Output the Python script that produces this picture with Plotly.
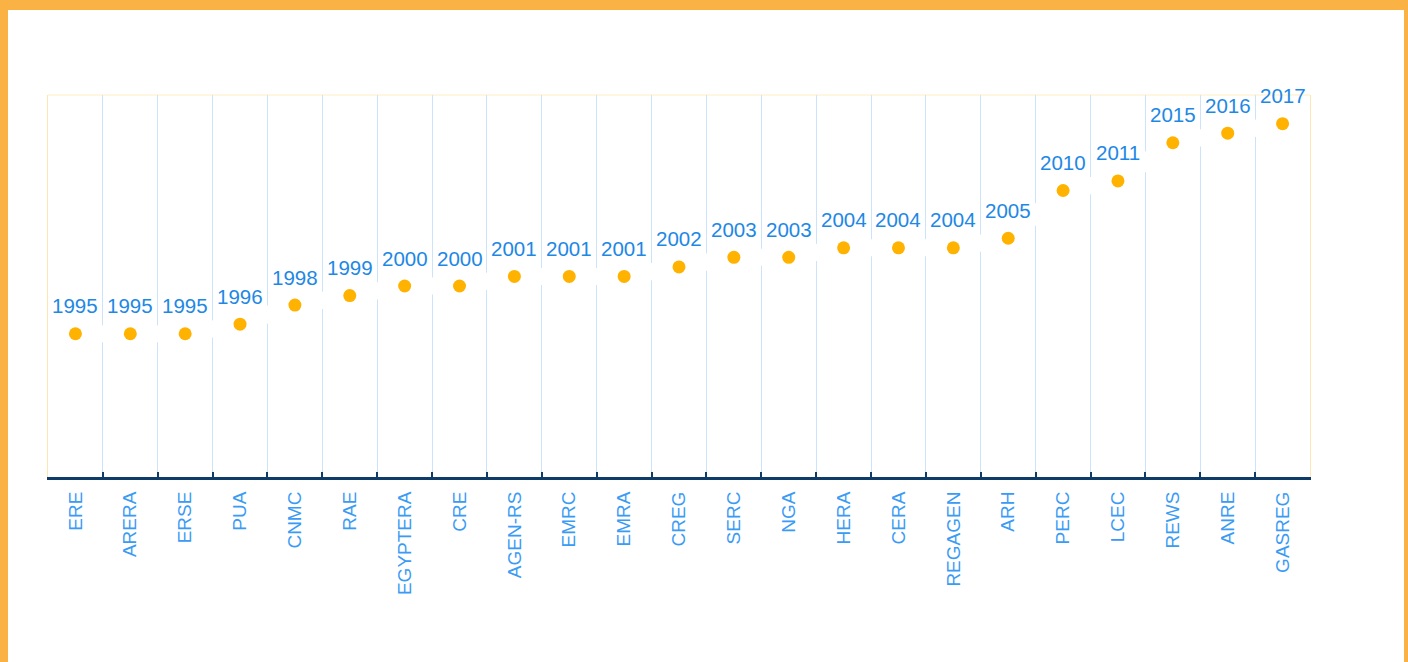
import plotly.graph_objects as go

categories = ["ERE", "ARERA", "ERSE", "PUA", "CNMC", "RAE", "EGYPTERA", "CRE", "AGEN-RS",
              "EMRC", "EMRA", "CREG", "SERC", "NGA", "HERA", "CERA", "REGAGEN", "ARH",
              "PERC", "LCEC", "REWS", "ANRE", "GASREG"]
years = [1995, 1995, 1995, 1996, 1998, 1999, 2000, 2000, 2001,
         2001, 2001, 2002, 2003, 2003, 2004, 2004, 2004, 2005,
         2010, 2011, 2015, 2016, 2017]
year_labels = [str(v) for v in years]

W, H = 1408, 662
L, R, T, B = 48, 1310, 95, 477  # plot area in pixels


def px_x(p):
    return (p - L) / (R - L)


def px_y(p):
    return (B - p) / (B - T)


FONT = "Liberation Sans, Arial, sans-serif"

fig = go.Figure()

# white thick connector that masks the gridlines
fig.add_trace(go.Scatter(
    x=categories, y=years, mode="lines",
    line=dict(color="white", width=17),
    hoverinfo="skip", showlegend=False,
))

fig.add_trace(go.Scatter(
    x=categories, y=years, mode="markers",
    marker=dict(color="#FFB300", size=13),
    showlegend=False,
))

annotations = [
    dict(x=c, y=v, text=t, showarrow=False, yshift=28, xref="x", yref="y",
         font=dict(family=FONT, size=20.5, color="#1E88E5"))
    for c, v, t in zip(categories, years, year_labels)
]

shapes = [
    # white card inside the orange frame
    dict(type="rect", xref="paper", yref="paper",
         x0=px_x(8), x1=px_x(1404), y0=px_y(700), y1=px_y(10),
         fillcolor="white", line=dict(width=0), layer="below"),
    # faint top border of plot area
    dict(type="line", xref="paper", yref="paper", x0=0, x1=1, y0=1, y1=1,
         line=dict(color="#FFF6DF", width=2), layer="below"),
]

fig.update_layout(
    width=W, height=H,
    margin=dict(l=L, r=W - R, t=T, b=H - B),
    paper_bgcolor="#F9B243",
    plot_bgcolor="white",
    shapes=shapes,
    annotations=annotations,
    xaxis=dict(
        type="category", tickson="boundaries",
        range=[-0.5, len(categories) - 0.5],
        showgrid=True, gridcolor="#CBE4FB", gridwidth=1,
        showline=True, linecolor="#0E3C68", linewidth=3,
        ticks="inside", ticklen=5, tickwidth=2, tickcolor="#0E3C68",
        tickangle=-90, ticklabelstandoff=4,
        tickfont=dict(family=FONT, size=19, color="#3A9BF5"),
        zeroline=False, fixedrange=True,
    ),
    yaxis=dict(
        range=[1980, 2020], showgrid=False, zeroline=False,
        showticklabels=False, ticks="",
        showline=True, mirror=True, linecolor="#FDE7B0", linewidth=1,
        fixedrange=True,
    ),
)

fig.write_html(
    "out.html",
    config={"displayModeBar": False},
    post_script="document.body.style.margin='0';document.body.style.overflow='hidden';",
)
